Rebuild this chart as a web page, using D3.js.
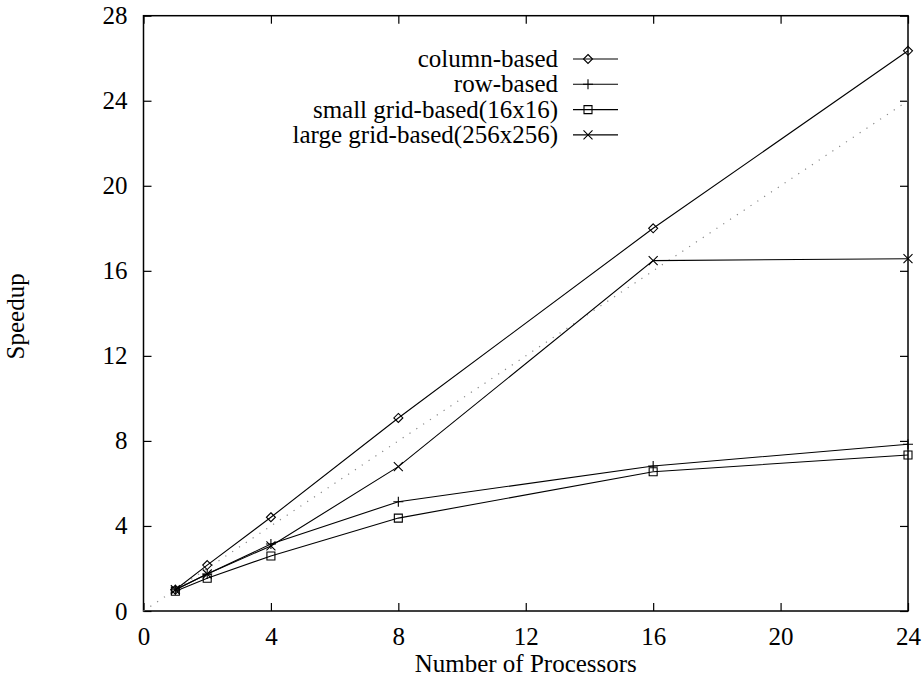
<!DOCTYPE html>
<html>
<head>
<meta charset="utf-8">
<script src="https://cdnjs.cloudflare.com/ajax/libs/d3/7.8.5/d3.min.js"></script>
<style>
    body { margin: 0; background: #fff; }
    text { font-family: "Liberation Serif", "Times New Roman", serif; font-size: 25px; fill: #000; }
    .series { fill: none; stroke: #000; stroke-width: 1.1; }
    .marker { fill: none; stroke: #000; stroke-width: 1.1; }
</style>
</head>
<body>
<div id="chart"></div>
<script>
// values
var processors = [1, 2, 4, 8, 16, 24];
var columnBased = [1.0, 2.16, 4.41, 9.08, 18.0, 26.35];
var rowBased = [1.0, 1.74, 3.15, 5.14, 6.82, 7.84];
var smallGrid = [0.93, 1.54, 2.59, 4.37, 6.55, 7.34];
var largeGrid = [1.0, 1.74, 3.06, 6.79, 16.48, 16.57];
var idealX = [0, 24];   // linear speedup reference (dotted)
var xTicks = [0, 4, 8, 12, 16, 20, 24];
var yTicks = [0, 4, 8, 12, 16, 20, 24, 28];

var seriesNames = ["column-based", "row-based", "small grid-based(16x16)", "large grid-based(256x256)"];
var seriesValues = [columnBased, rowBased, smallGrid, largeGrid];
var seriesMarkers = ["diamond", "plus", "square", "cross"];

var margin = {top: 15.7, right: 14, bottom: 66, left: 143.5};
var width = 922 - margin.left - margin.right,
    height = 677 - margin.top - margin.bottom;

var svg = d3.select("#chart").append("svg")
    .attr("width", 922)
    .attr("height", 677)
    .append("g")
    .attr("transform", "translate(" + margin.left + "," + margin.top + ")");

var x = d3.scaleLinear().domain([0, 24]).range([0, width]);
var y = d3.scaleLinear().domain([0, 28]).range([height, 0]);

// marker shapes, gnuplot style
function markerPath(type) {
    var s = 4.5;
    if (type == "diamond") return "M0," + (-s) + "L" + s + ",0L0," + s + "L" + (-s) + ",0Z";
    if (type == "square") return "M" + (-4) + "," + (-4) + "h8v8h-8Z";
    if (type == "plus") return "M-5,0h10M0,-5v10";
    return "M-4.5,-4.5L4.5,4.5M-4.5,4.5L4.5,-4.5";
}

// axes with inward ticks, mirrored on top/right
svg.append("g")
    .attr("transform", "translate(0," + height + ")")
    .call(d3.axisBottom(x).tickValues(xTicks).tickSize(-8).tickPadding(16).tickFormat(d3.format("d")));
svg.append("g")
    .call(d3.axisTop(x).tickValues(xTicks).tickSize(-8).tickFormat(""));
svg.append("g")
    .call(d3.axisLeft(y).tickValues(yTicks).tickSize(-8).tickPadding(16).tickFormat(d3.format("d")));
svg.append("g")
    .attr("transform", "translate(" + width + ",0)")
    .call(d3.axisRight(y).tickValues(yTicks).tickSize(-8).tickFormat(""));

svg.selectAll(".domain").remove();
svg.selectAll(".tick line").attr("stroke", "#000").attr("stroke-width", 1.2);
svg.selectAll(".tick text").style("font-size", "25px").style("font-family", "Liberation Serif");

svg.append("rect")
    .attr("width", width)
    .attr("height", height)
    .attr("fill", "none")
    .attr("stroke", "#000")
    .attr("stroke-width", 1.5);

// ideal speedup
svg.append("path")
    .datum(idealX)
    .attr("fill", "none")
    .attr("stroke", "#888")
    .attr("stroke-width", 1.2)
    .attr("stroke-dasharray", "1.2,7")
    .attr("d", d3.line().x(function(d) { return x(d); }).y(function(d) { return y(d); }));

var line = d3.line()
    .x(function(d, i) { return x(processors[i]); })
    .y(function(d) { return y(d); });

seriesValues.forEach(function(vals, k) {
    svg.append("path")
        .datum(vals)
        .attr("class", "series")
        .attr("d", line);

    svg.selectAll(".m" + k)
        .data(vals)
        .enter().append("path")
        .attr("class", "marker m" + k)
        .attr("transform", function(d, i) { return "translate(" + x(processors[i]) + "," + y(d) + ")"; })
        .attr("d", markerPath(seriesMarkers[k]));
});

// legend
var legend = svg.append("g")
    .attr("transform", "translate(" + (558 - margin.left) + "," + (59 - margin.top) + ")");

seriesNames.forEach(function(name, k) {
    var row = legend.append("g").attr("transform", "translate(0," + (k * 25.3) + ")");
    row.append("text")
        .attr("text-anchor", "end")
        .attr("y", 8)
        .text(name);
    row.append("line")
        .attr("x1", 15).attr("x2", 60)
        .attr("stroke", "#000").attr("stroke-width", 1.1);
    row.append("path")
        .attr("class", "marker")
        .attr("transform", "translate(30,0)")
        .attr("d", markerPath(seriesMarkers[k]));
});

// axis titles
svg.append("text")
    .attr("x", width / 2)
    .attr("y", height + 61)
    .attr("text-anchor", "middle")
    .text("Number of Processors");

svg.append("text")
    .attr("transform", "translate(" + (23.5 - margin.left) + "," + (height / 2 + 3) + ") rotate(-90)")
    .attr("text-anchor", "middle")
    .text("Speedup");
</script>
</body>
</html>
